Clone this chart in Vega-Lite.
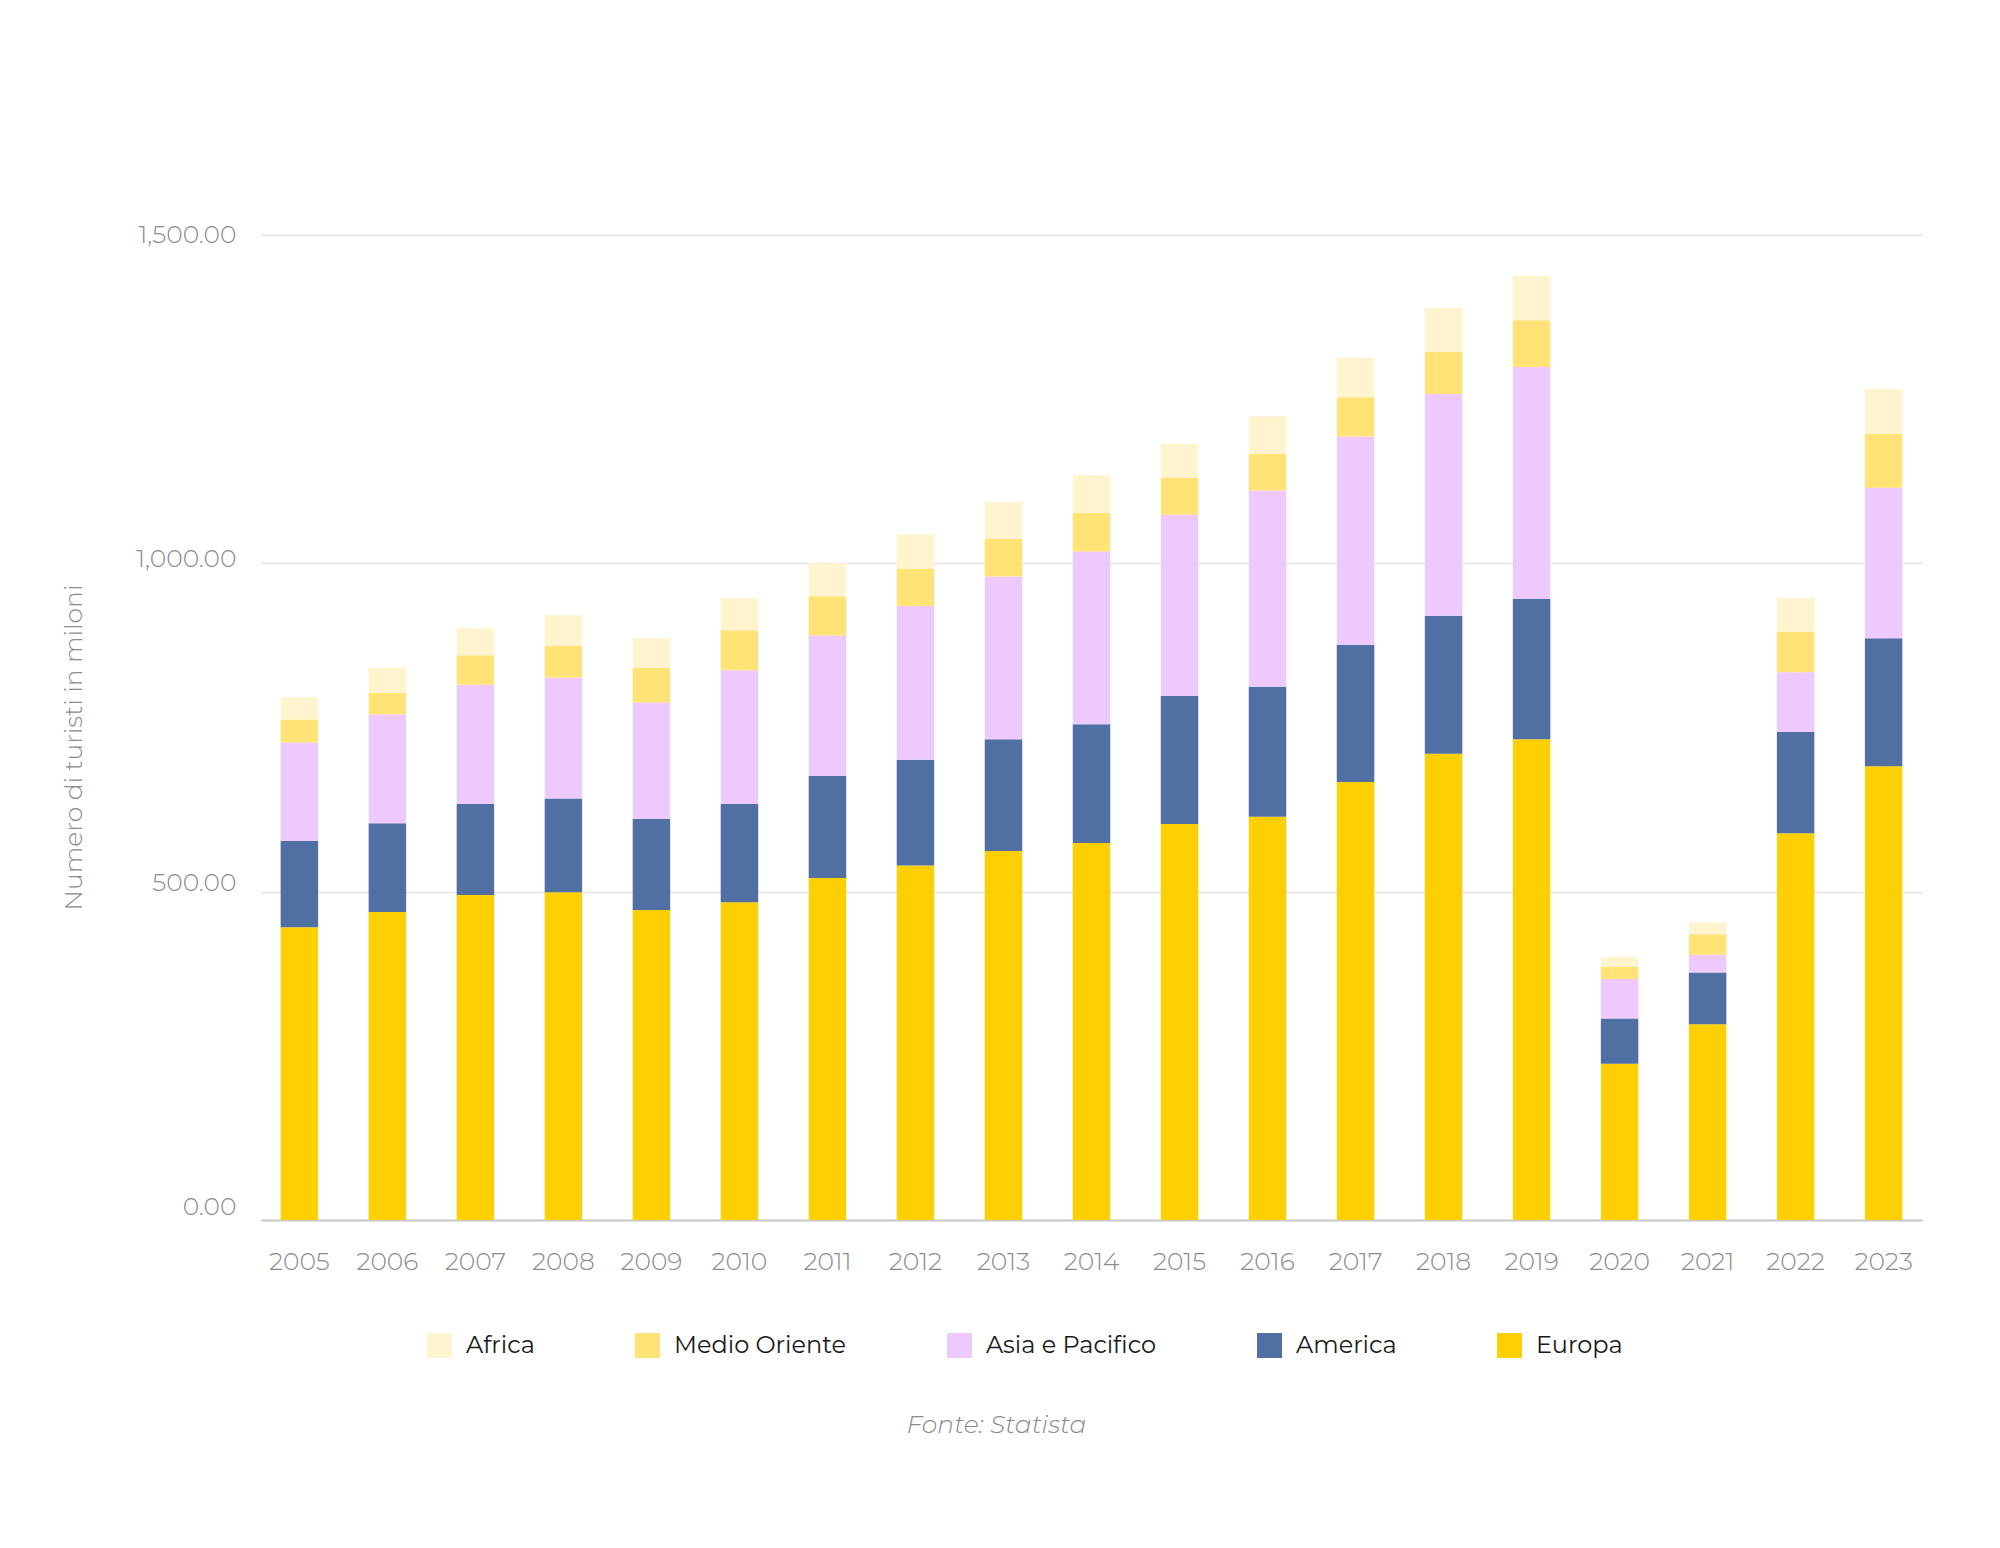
{
  "$schema": "https://vega.github.io/schema/vega-lite/v6.json",
  "autosize": {"type": "none"},
  "width": 1661,
  "height": 985,
  "padding": {"left": 261, "top": 235, "right": 78, "bottom": 328},
  "background": "white",
  "title": {
    "text": "Fonte: Statista",
    "orient": "bottom",
    "anchor": "middle",
    "frame": "group",
    "offset": 67,
    "dx": -95,
    "baseline": "middle",
    "font": "Montserrat, Open Sans",
    "fontSize": 25,
    "fontStyle": "italic",
    "fontWeight": 300,
    "color": "#8a8a8a"
  },
  "config": {
    "view": {"stroke": null},
    "font": "Montserrat, Open Sans"
  },
  "data": {
    "values": [
      {"anno": "2005", "regione": "Europa", "valore": 446},
      {"anno": "2005", "regione": "America", "valore": 131},
      {"anno": "2005", "regione": "Asia e Pacifico", "valore": 150},
      {"anno": "2005", "regione": "Medio Oriente", "valore": 35},
      {"anno": "2005", "regione": "Africa", "valore": 34},
      {"anno": "2006", "regione": "Europa", "valore": 469},
      {"anno": "2006", "regione": "America", "valore": 135},
      {"anno": "2006", "regione": "Asia e Pacifico", "valore": 166},
      {"anno": "2006", "regione": "Medio Oriente", "valore": 33},
      {"anno": "2006", "regione": "Africa", "valore": 38},
      {"anno": "2007", "regione": "Europa", "valore": 495},
      {"anno": "2007", "regione": "America", "valore": 139},
      {"anno": "2007", "regione": "Asia e Pacifico", "valore": 181},
      {"anno": "2007", "regione": "Medio Oriente", "valore": 45},
      {"anno": "2007", "regione": "Africa", "valore": 41},
      {"anno": "2008", "regione": "Europa", "valore": 499},
      {"anno": "2008", "regione": "America", "valore": 143},
      {"anno": "2008", "regione": "Asia e Pacifico", "valore": 184},
      {"anno": "2008", "regione": "Medio Oriente", "valore": 49},
      {"anno": "2008", "regione": "Africa", "valore": 46},
      {"anno": "2009", "regione": "Europa", "valore": 472},
      {"anno": "2009", "regione": "America", "valore": 139},
      {"anno": "2009", "regione": "Asia e Pacifico", "valore": 177},
      {"anno": "2009", "regione": "Medio Oriente", "valore": 53},
      {"anno": "2009", "regione": "Africa", "valore": 45},
      {"anno": "2010", "regione": "Europa", "valore": 484},
      {"anno": "2010", "regione": "America", "valore": 150},
      {"anno": "2010", "regione": "Asia e Pacifico", "valore": 203},
      {"anno": "2010", "regione": "Medio Oriente", "valore": 61},
      {"anno": "2010", "regione": "Africa", "valore": 49},
      {"anno": "2011", "regione": "Europa", "valore": 521},
      {"anno": "2011", "regione": "America", "valore": 155},
      {"anno": "2011", "regione": "Asia e Pacifico", "valore": 214},
      {"anno": "2011", "regione": "Medio Oriente", "valore": 60},
      {"anno": "2011", "regione": "Africa", "valore": 50},
      {"anno": "2012", "regione": "Europa", "valore": 540},
      {"anno": "2012", "regione": "America", "valore": 161},
      {"anno": "2012", "regione": "Asia e Pacifico", "valore": 234},
      {"anno": "2012", "regione": "Medio Oriente", "valore": 57},
      {"anno": "2012", "regione": "Africa", "valore": 52},
      {"anno": "2013", "regione": "Europa", "valore": 562},
      {"anno": "2013", "regione": "America", "valore": 170},
      {"anno": "2013", "regione": "Asia e Pacifico", "valore": 248},
      {"anno": "2013", "regione": "Medio Oriente", "valore": 57},
      {"anno": "2013", "regione": "Africa", "valore": 56},
      {"anno": "2014", "regione": "Europa", "valore": 574},
      {"anno": "2014", "regione": "America", "valore": 181},
      {"anno": "2014", "regione": "Asia e Pacifico", "valore": 263},
      {"anno": "2014", "regione": "Medio Oriente", "valore": 59},
      {"anno": "2014", "regione": "Africa", "valore": 57},
      {"anno": "2015", "regione": "Europa", "valore": 603},
      {"anno": "2015", "regione": "America", "valore": 195},
      {"anno": "2015", "regione": "Asia e Pacifico", "valore": 276},
      {"anno": "2015", "regione": "Medio Oriente", "valore": 56},
      {"anno": "2015", "regione": "Africa", "valore": 52},
      {"anno": "2016", "regione": "Europa", "valore": 614},
      {"anno": "2016", "regione": "America", "valore": 198},
      {"anno": "2016", "regione": "Asia e Pacifico", "valore": 299},
      {"anno": "2016", "regione": "Medio Oriente", "valore": 56},
      {"anno": "2016", "regione": "Africa", "valore": 57},
      {"anno": "2017", "regione": "Europa", "valore": 667},
      {"anno": "2017", "regione": "America", "valore": 209},
      {"anno": "2017", "regione": "Asia e Pacifico", "valore": 317},
      {"anno": "2017", "regione": "Medio Oriente", "valore": 60},
      {"anno": "2017", "regione": "Africa", "valore": 60},
      {"anno": "2018", "regione": "Europa", "valore": 710},
      {"anno": "2018", "regione": "America", "valore": 210},
      {"anno": "2018", "regione": "Asia e Pacifico", "valore": 338},
      {"anno": "2018", "regione": "Medio Oriente", "valore": 64},
      {"anno": "2018", "regione": "Africa", "valore": 67},
      {"anno": "2019", "regione": "Europa", "valore": 732},
      {"anno": "2019", "regione": "America", "valore": 214},
      {"anno": "2019", "regione": "Asia e Pacifico", "valore": 353},
      {"anno": "2019", "regione": "Medio Oriente", "valore": 71},
      {"anno": "2019", "regione": "Africa", "valore": 68},
      {"anno": "2020", "regione": "Europa", "valore": 238},
      {"anno": "2020", "regione": "America", "valore": 69},
      {"anno": "2020", "regione": "Asia e Pacifico", "valore": 60},
      {"anno": "2020", "regione": "Medio Oriente", "valore": 19},
      {"anno": "2020", "regione": "Africa", "valore": 15},
      {"anno": "2021", "regione": "Europa", "valore": 298},
      {"anno": "2021", "regione": "America", "valore": 79},
      {"anno": "2021", "regione": "Asia e Pacifico", "valore": 27},
      {"anno": "2021", "regione": "Medio Oriente", "valore": 31},
      {"anno": "2021", "regione": "Africa", "valore": 18},
      {"anno": "2022", "regione": "Europa", "valore": 589},
      {"anno": "2022", "regione": "America", "valore": 154},
      {"anno": "2022", "regione": "Asia e Pacifico", "valore": 91},
      {"anno": "2022", "regione": "Medio Oriente", "valore": 62},
      {"anno": "2022", "regione": "Africa", "valore": 51},
      {"anno": "2023", "regione": "Europa", "valore": 691},
      {"anno": "2023", "regione": "America", "valore": 195},
      {"anno": "2023", "regione": "Asia e Pacifico", "valore": 229},
      {"anno": "2023", "regione": "Medio Oriente", "valore": 82},
      {"anno": "2023", "regione": "Africa", "valore": 69}
    ]
  },
  "mark": {"type": "bar"},
  "encoding": {
    "x": {
      "field": "anno",
      "type": "ordinal",
      "scale": {"paddingInner": 0.574, "paddingOuter": 0.223},
      "axis": {
        "title": null,
        "labelAngle": 0,
        "labelFont": "Montserrat, Open Sans",
        "labelFontSize": 25,
        "labelFontWeight": 300,
        "labelColor": "#8c8c8c",
        "labelPadding": 29,
        "ticks": false,
        "domainColor": "#c8c8c8",
        "domainWidth": 2,
        "grid": false
      }
    },
    "y": {
      "field": "valore",
      "type": "quantitative",
      "stack": "zero",
      "scale": {"domain": [0, 1500], "nice": false},
      "axis": {
        "title": "Numero di turisti in miloni",
        "titleFont": "Montserrat, Open Sans",
        "titleFontSize": 25,
        "titleFontWeight": 300,
        "titleColor": "#8c8c8c",
        "titleX": -188,
        "titleY": 512,
        "titleAngle": -90,
        "titleAlign": "center",
        "titleBaseline": "middle",
        "values": [0, 500, 1000, 1500],
        "format": ",.2f",
        "labelFont": "Montserrat, Open Sans",
        "labelFontSize": 25,
        "labelFontWeight": 300,
        "labelColor": "#8c8c8c",
        "labelPadding": 25,
        "labelOffset": {"condition": [{"test": "datum.value == 0", "value": -14}, {"test": "datum.value == 500", "value": -9}, {"test": "datum.value == 1000", "value": -5}], "value": -1},
        "ticks": false,
        "domain": false,
        "grid": true,
        "gridColor": "#e4e4e4",
        "gridWidth": 1.5
      }
    },
    "order": {"field": "color_regione_sort_index", "type": "quantitative", "sort": "descending"},
    "color": {
      "field": "regione",
      "type": "nominal",
      "sort": ["Africa", "Medio Oriente", "Asia e Pacifico", "America", "Europa"],
      "scale": {
        "range": ["#FFF4CE", "#FFE376", "#EDC9FD", "#5070A4", "#FECF02"]
      },
      "legend": {
        "title": null,
        "orient": "none",
        "legendX": 166,
        "legendY": 1098,
        "direction": "horizontal",
        "columns": 5,
        "columnPadding": 100,
        "symbolType": "square",
        "symbolSize": 625,
        "symbolStrokeWidth": 0,
        "symbolOpacity": 1,
        "labelFont": "Montserrat, Open Sans",
        "labelFontSize": 24,
        "labelFontWeight": 400,
        "labelLimit": 0,
        "labelColor": "#1a1a1a",
        "labelOffset": 14,
        "padding": 0
      }
    }
  }
}
